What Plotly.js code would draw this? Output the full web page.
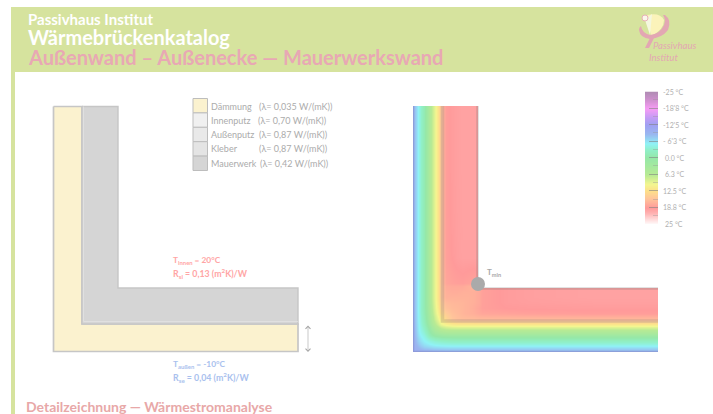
<!DOCTYPE html>
<html><head><meta charset="utf-8">
<script src="https://cdn.plot.ly/plotly-3.0.1.min.js"></script>
<style>html,body{margin:0;padding:0;background:#fff}#c{width:713px;height:414px}</style>
</head><body><div id="c"></div>
<script>
// Layer table
const layerNames = ['Dämmung','Innenputz','Außenputz','Kleber','Mauerwerk'];
const layerLambda = ['(λ= 0,035 W/(mK))','(λ= 0,70 W/(mK))','(λ= 0,87 W/(mK))','(λ= 0,87 W/(mK))','(λ= 0,42 W/(mK))'];
const layerColors = ['#fbf2cf','#f0f0f0','#e9e9e9','#e4e4e4','#d5d5d5'];
const lambdaX = [257,256,257,257,258];

// Wall section outlines (drawing units)
const insulationX = [53.5,53.5,298,298,82,82,53.5];
const insulationY = [106.5,351.5,351.5,324,324,106.5,106.5];
const masonryX = [82,82,298,298,118,118,82];
const masonryY = [106.5,324,324,288,288,106.5,106.5];
const glueX = [83.5,83.5,298];
const glueY = [106.5,321.5,321.5];

// Temperature field (°C); cell edges in drawing units
const fieldXEdges = [410.25,415.75,421.25,426.75,432.25,437.75,443.25,448.75,454.25,459.75,465.25,470.75,476.25,481.75,530,660];
const fieldYEdges = [102,232,283.25,288.75,294.25,299.75,305.25,310.75,316.25,321.75,327.25,332.75,338.25,343.75,349.25,354.75];
const fieldZ = [
 [-9.5,-5,-1,4.5,9.5,15,18.5,19,19.3,19.5,19.5,19.5,19.5,19.5,19.5],
 [-9.5,-5,-1,4.5,9.5,15,18.3,18.8,19.2,19.4,19.4,19.4,19.4,19.5,19.5],
 [-9.5,-5,-1,4.5,9.5,14.8,17.3,17.5,17.5,17.5,17,16.5,17.5,19,19.5],
 [-9.5,-5,-1,4.5,9.5,14.8,17,17.2,17.2,17,17,17,17.5,19,19.5],
 [-9.5,-5,-1,4.5,9.5,14.8,16.8,16.8,16.8,16.8,16.8,17,17.5,19,19.5],
 [-9.5,-5,-1,4.3,9.3,14.3,16,16.3,16.4,16.5,16.8,17,17.5,19,19.3],
 [-9.5,-5,-1,4,9,13.8,15.5,16,16.2,16.5,16.8,17.2,17.8,18.8,19],
 [-9.5,-5.1,-1.2,3.5,8.5,12.8,14.5,15.5,16,16.5,16.8,17,17.5,18,18.5],
 [-9.5,-5.3,-1.6,3,7.6,11.3,13.5,15,15.6,15.9,16,16,16.2,16.2,16.2],
 [-9.6,-5.5,-2.2,2,6,9.2,10.5,11.2,11.5,11.5,11.5,11.5,11.5,11.5,11.5],
 [-9.7,-5.8,-3.2,0.3,3.6,5.2,5.9,6,6,6,6,6,6,6,6],
 [-9.8,-6.4,-4.5,-1.5,0.3,1.1,1.4,1.5,1.5,1.5,1.5,1.5,1.5,1.5,1.5],
 [-9.9,-7.3,-5.6,-4.5,-3.6,-3.1,-2.8,-2.6,-2.5,-2.5,-2.5,-2.5,-2.5,-2.5,-2.5],
 [-10.1,-8.6,-7.3,-6.8,-6.4,-6.2,-6.1,-6,-6,-6,-6,-6,-6,-6,-6],
 [-10.4,-10.1,-9.9,-9.8,-9.7,-9.6,-9.5,-9.5,-9.5,-9.5,-9.5,-9.5,-9.5,-9.5,-9.5]
];
const scaleStops = [
 [-25,'#b08cb4'],[-22,'#cc90cc'],[-18.8,'#f79cf5'],[-15.5,'#c69cf5'],[-12.5,'#a0a0f2'],[-9,'#9ab6f0'],
 [-5.5,'#90f2f6'],[-3,'#90f0c8'],[0,'#95e8a8'],[6.3,'#b8ea94'],[10,'#f4f690'],[12.5,'#fde08a'],
 [15,'#ffc79a'],[18.8,'#ff9a9a'],[21,'#ffb4b4'],[25,'#ffffff']
];
const scaleTicks = [-25,-18.75,-12.5,-6.25,0,6.25,12.5,18.75,25];
const scaleLabels = ['-25 °C',"-18'8 °C","-12'5 °C","- 6'3 °C",'0.0 °C','6.3 °C','12.5 °C','18.8 °C','25 °C'];
const scaleLabelX = [661,661,661,661,663,663,661,661,663];
const scaleZ = [-25,-21.875,-18.75,-15.625,-12.5,-9.375,-6.25,-3.125,0,3.125,6.25,9.375,12.5,15.625,18.75,21.875,25];

const cs = scaleStops.map(s=>[(s[0]+25)/50,s[1]]);
const hdr = '#d6e39e', pink = '#e8a8b4', grey = '#ababab';
const F = 'Lato, sans-serif';

const traces = [
 {type:'scatter',mode:'lines',x:insulationX,y:insulationY,fill:'toself',fillcolor:layerColors[0],line:{color:'#c6c6c6',width:1.7},hoverinfo:'skip',xaxis:'x',yaxis:'y'},
 {type:'scatter',mode:'lines',x:masonryX,y:masonryY,fill:'toself',fillcolor:layerColors[4],line:{color:'#c6c6c6',width:1.4},hoverinfo:'skip',xaxis:'x',yaxis:'y'},
 {type:'scatter',mode:'lines',x:glueX,y:glueY,line:{color:'#e2e2e2',width:0.8},hoverinfo:'skip',xaxis:'x',yaxis:'y'},
 {type:'heatmap',x:fieldXEdges,y:fieldYEdges,z:fieldZ,zmin:-25,zmax:25,colorscale:cs,zsmooth:'best',showscale:false,hoverinfo:'skip',xaxis:'x2',yaxis:'y2'},
 {type:'scatter',mode:'lines',x:[478,658,658,478,478],y:[100,100,288,288,100],fill:'toself',fillcolor:'#fff',line:{width:0,color:'#fff'},hoverinfo:'skip',xaxis:'x2',yaxis:'y2'},
 {type:'scatter',mode:'lines',x:[442.5,442.5,658],y:[106,321,321],line:{color:'rgba(120,120,120,.22)',width:3.5},hoverinfo:'skip',xaxis:'x2',yaxis:'y2'},
 {type:'scatter',mode:'lines',x:[477.5,477.5,658],y:[106,288.5,288.5],line:{color:'rgba(120,120,120,.28)',width:2.5},hoverinfo:'skip',xaxis:'x2',yaxis:'y2'},
 {type:'scatter',mode:'lines',x:[413.5,413.5,658],y:[106,351.5,351.5],line:{color:'rgba(110,110,170,.3)',width:1.5},hoverinfo:'skip',xaxis:'x2',yaxis:'y2',cliponaxis:false},
 {type:'scatter',mode:'markers',x:[478],y:[284],marker:{size:14,color:'#aaaaaa'},cliponaxis:false,hoverinfo:'skip',xaxis:'x2',yaxis:'y2'},
 {type:'heatmap',x:[0,1],y:scaleZ,z:scaleZ.map(v=>[v,v]),zmin:-25,zmax:25,colorscale:cs,zsmooth:'best',showscale:false,hoverinfo:'skip',xaxis:'x3',yaxis:'y3'}
];

const shapes = [
 {type:'rect',xref:'paper',yref:'paper',x0:11/713,x1:1,y0:1-72/414,y1:1-7/414,fillcolor:hdr,line:{width:0},layer:'below'},
 {type:'rect',xref:'paper',yref:'paper',x0:11/713,x1:15/713,y0:0,y1:1-72/414,fillcolor:hdr,line:{width:0},layer:'below'},
 // logo
 {type:'path',xref:'x',yref:'y',path:'M 647 15 Q 660 12 664 20 Q 664 30 651 36 Z',fillcolor:'#fbf3ba',line:{width:0}},
 {type:'path',xref:'x',yref:'y',path:'M 645 20 L 652 14 L 650 35 Z',fillcolor:'#f4f7df',line:{width:0}},
 {type:'path',xref:'x',yref:'y',path:'M 665 15 Q 672 20 668 30 Q 662 38 650 39 Q 640 38 639 30 Q 639 27 641 26 Q 642 33 650 35 Q 660 34 664 25 Q 666 19 663 15 Z',fillcolor:'#e3a7b3',line:{width:0}},
 {type:'path',xref:'x',yref:'y',path:'M 650 38 L 654 38 L 649 48 L 645 48 Z',fillcolor:'#e3a7b3',line:{width:0}},
 {type:'circle',xref:'x',yref:'y',x0:642,x1:648,y0:15,y1:21,fillcolor:'#fbf7ea',line:{color:'#e8b0b8',width:1}}
];
layerNames.forEach((n,i)=>shapes.push({type:'rect',xref:'x',yref:'y',x0:193,x1:207.5,y0:98.5+i*14.4,y1:98.5+(i+1)*14.4,fillcolor:layerColors[i],line:{color:'#bdbdbd',width:1}}));

const ann = (x,y,text,size,color,extra)=>Object.assign({xref:'x',yref:'y',x,y,text,showarrow:false,xanchor:'left',yanchor:'middle',font:{family:F,size,color}},extra||{});
const annotations = [
 ann(26,18.5,'<b>Passivhaus Institut</b>',15,'#fff'),
 ann(26,37,'<b>Wärmebrückenkatalog</b>',20,'#fff'),
 ann(26,57,'<b>Außenwand – Außenecke — Mauerwerkswand</b>',20,pink),
 ann(24,406,'<b>Detailzeichnung — Wärmestromanalyse</b>',14,'#e8a8a8'),
 ann(171,260,'<b>T<sub>innen</sub> = 20°C</b>',8.4,'#ffa5a5'),
 ann(171,273,'<b>R<sub>si</sub> = 0,13 (m<sup>2</sup>K)/W</b>',8.8,'#ffa5a5'),
 ann(171,364,'<b>T<sub>außen</sub> = -10°C</b>',8.4,'#a9c1ee'),
 ann(171,377,'<b>R<sub>se</sub> = 0,04 (m<sup>2</sup>K)/W</b>',8.8,'#a9c1ee'),
 ann(485,272.5,'<b>T<sub>min</sub></b>',8,'#a8a8a8'),
 ann(651,45,'<i>Passivhaus</i>',9.6,'#e3a7b3'),
 ann(647,57,'<i>Institut</i>',9.6,'#e3a7b3'),
 {xref:'x',yref:'y',axref:'x',ayref:'y',x:308,y:352,ax:308,ay:324,text:'',showarrow:true,arrowhead:4,startarrowhead:4,arrowside:'end+start',arrowsize:1.6,startarrowsize:1.6,arrowwidth:0.6,arrowcolor:'#a5a5a5'}
];
layerNames.forEach((n,i)=>{
 const y = 106+i*14.3;
 annotations.push(ann(209,y,n,9,grey));
 annotations.push(ann(lambdaX[i],y,layerLambda[i],9,grey));
});
scaleLabels.forEach((t,i)=>annotations.push(ann(scaleLabelX[i],92+i*16.45,t,7,'#b0b0b0')));

const hidden = {visible:false,fixedrange:true};
const layout = {
 width:713,height:414,margin:{l:0,r:0,t:0,b:0},paper_bgcolor:'#fff',plot_bgcolor:'rgba(0,0,0,0)',showlegend:false,
 shapes,annotations,
 xaxis:Object.assign({},hidden,{domain:[0,1],range:[0,713]}),
 yaxis:Object.assign({},hidden,{domain:[0,1],range:[414,0]}),
 xaxis2:Object.assign({},hidden,{domain:[413/713,658/713],range:[413,658],anchor:'y2'}),
 yaxis2:Object.assign({},hidden,{domain:[1-352/414,1-106/414],range:[352,106],anchor:'x2'}),
 xaxis3:{domain:[645/713,658/713],range:[0,1],anchor:'y3',visible:false},
 yaxis3:{domain:[1-224/414,1-91.5/414],range:[25,-25],anchor:'x3',side:'right',showgrid:false,zeroline:false,showline:false,
   tickmode:'array',tickvals:scaleTicks,ticks:'inside',ticklen:9,tickcolor:'rgba(130,130,130,.6)',tickwidth:1,showticklabels:false,
   minor:{tickmode:'array',tickvals:[-21.9,-15.6,-9.4,-3.1,3.1,9.4,15.6,21.9],ticks:'inside',ticklen:5,tickcolor:'rgba(150,150,150,.4)',tickwidth:1}}
};
Plotly.newPlot('c',traces,layout,{displayModeBar:false,staticPlot:true});
</script></body></html>
